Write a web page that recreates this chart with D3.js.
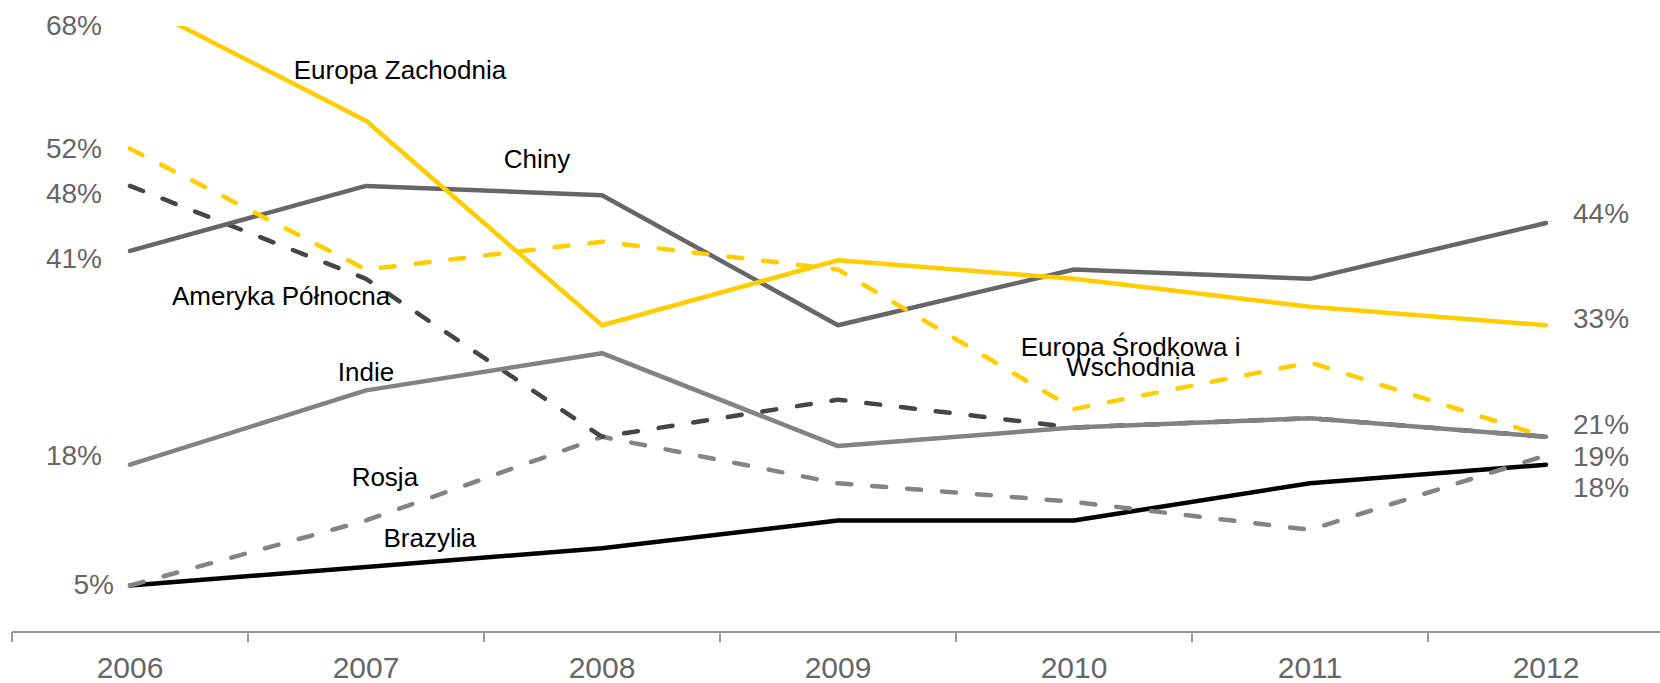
<!DOCTYPE html>
<html>
<head>
<meta charset="utf-8">
<script src="https://cdn.jsdelivr.net/npm/d3@7"></script>
<style>
  body { margin: 0; background: #fff; }
  text { font-family: "Liberation Sans", Arial, sans-serif; }
</style>
</head>
<body>
<div id="chart"></div>
<script>
// data (percent)
var years = [2006, 2007, 2008, 2009, 2010, 2011, 2012];
var europaZachodnia = [68, 55, 33, 40, 38, 35, 33];
var chiny = [41, 48, 47, 33, 39, 38, 44];
var europaSrodkowa = [52, 39, 42, 39, 24, 29, 21];
var amerykaPolnocna = [48, 38, 21, 25, 22, 23, 21];
var indie = [18, 26, 30, 20, 22, 23, 21];
var rosja = [5, 12, 21, 16, 14, 11, 19];
var brazylia = [5, 7, 9, 12, 12, 16, 18];

// series in drawing order (last on top)
var series = [
  {name: "Brazylia", values: brazylia, color: "#000000", dash: null},
  {name: "Rosja", values: rosja, color: "#838383", dash: "14,21"},
  {name: "Ameryka Północna", values: amerykaPolnocna, color: "#454545", dash: "14,21"},
  {name: "Indie", values: indie, color: "#828282", dash: null},
  {name: "Chiny", values: chiny, color: "#666666", dash: null},
  {name: "Europa Zachodnia", values: europaZachodnia, color: "#FFCC00", dash: null},
  {name: "Europa Środkowa i Wschodnia", values: europaSrodkowa, color: "#FFCC00", dash: "14,21"}
];

// value labels: which series gets a label on each side + baseline nudge (px)
var leftLabels = {
  "Europa Zachodnia": {dy: 35}, "Europa Środkowa i Wschodnia": {dy: 9},
  "Ameryka Północna": {dy: 17}, "Chiny": {dy: 17}, "Indie": {dy: 0},
  "Brazylia": {dy: 8, dx: 12}
};
var rightLabels = {
  "Chiny": {dy: 0}, "Europa Zachodnia": {dy: 3}, "Indie": {dy: -3},
  "Rosja": {dy: 11}, "Brazylia": {dy: 32}
};

// series name annotations: position in (fractional year, value) space
var nameLabels = [
  {lines: ["Europa Zachodnia"], year: 2007.144, value: 59.5},
  {lines: ["Chiny"], year: 2007.725, value: 49.9},
  {lines: ["Ameryka Północna"], year: 2006.64, value: 35.2},
  {lines: ["Indie"], year: 2007.0, value: 27.0},
  {lines: ["Rosja"], year: 2007.08, value: 15.7},
  {lines: ["Brazylia"], year: 2007.27, value: 9.1},
  {lines: ["Europa Środkowa i", "Wschodnia"], year: 2010.24, value: 29.7}
];

var W = 1660, H = 683;
var axisY = 632; //baseline of the plot (0%)
var plotTop = 26; //lines are clipped here

var svg = d3.select("#chart").append("svg")
  .attr("width", W)
  .attr("height", H);

var x = d3.scaleBand()
  .domain(years)
  .range([12, 1664])
  .padding(0); //categories with ticks between them

var xc = function(yr){ return x(yr) + x.bandwidth() / 2; };

var xf = d3.scaleLinear()
  .domain([years[0], years[years.length - 1]])
  .range([xc(years[0]), xc(years[years.length - 1])]); //fractional years for annotations

var y = d3.scaleLinear()
  .domain([0, 68])
  .range([axisY, 0]);

svg.append("defs").append("clipPath")
  .attr("id", "plotClip")
  .append("rect")
  .attr("x", 0)
  .attr("y", plotTop)
  .attr("width", W)
  .attr("height", axisY - plotTop + 10);

// x axis
var xAxis = d3.axisBottom(x).tickSize(0).tickPadding(0);
var axisG = svg.append("g")
  .attr("transform", "translate(0," + axisY + ")")
  .call(xAxis);
axisG.select(".domain").remove();
axisG.append("line")
  .attr("x1", 12).attr("x2", W)
  .attr("y1", 0).attr("y2", 0)
  .style("stroke", "#9a9a9a")
  .style("stroke-width", 2);
axisG.selectAll(".sep")
  .data(years.concat([null]))
  .enter()
  .append("line")
  .attr("class", "sep")
  .attr("x1", function(d, i){ return 12 + i * x.bandwidth(); })
  .attr("x2", function(d, i){ return 12 + i * x.bandwidth(); })
  .attr("y1", 0).attr("y2", 10)
  .style("stroke", "#9a9a9a")
  .style("stroke-width", 2);
axisG.selectAll(".tick text")
  .attr("y", 46)
  .attr("dy", 0)
  .style("font-size", "30px")
  .style("font-family", "'Liberation Sans', Arial, sans-serif")
  .style("fill", "#666666");

// lines
var line = d3.line()
  .x(function(d, i){ return xc(years[i]); })
  .y(function(d){ return y(d); });

var linesG = svg.append("g").attr("clip-path", "url(#plotClip)");
linesG.selectAll(".series")
  .data(series)
  .enter()
  .append("path")
  .attr("class", "series")
  .attr("d", function(d){ return line(d.values); })
  .style("fill", "none")
  .style("stroke", function(d){ return d.color; })
  .style("stroke-width", 4.5)
  .style("stroke-linejoin", "round")
  .style("stroke-linecap", "round")
  .style("stroke-dasharray", function(d){ return d.dash; });

// value labels, left side (2006)
svg.selectAll(".leftLabel")
  .data(series.filter(function(d){ return leftLabels[d.name]; }))
  .enter()
  .append("text")
  .attr("class", "leftLabel")
  .attr("text-anchor", "end")
  .attr("x", function(d){ return xc(years[0]) - 28 + (leftLabels[d.name].dx || 0); })
  .attr("y", function(d){ return y(d.values[0]) + leftLabels[d.name].dy; })
  .style("font-size", "28px")
  .style("fill", "#666666")
  .text(function(d){ return d.values[0] + "%"; });

// value labels, right side (2012)
var last = years.length - 1;
svg.selectAll(".rightLabel")
  .data(series.filter(function(d){ return rightLabels[d.name]; }))
  .enter()
  .append("text")
  .attr("class", "rightLabel")
  .attr("text-anchor", "start")
  .attr("x", xc(years[last]) + 27)
  .attr("y", function(d){ return y(d.values[last]) + rightLabels[d.name].dy; })
  .style("font-size", "28px")
  .style("fill", "#666666")
  .text(function(d){ return d.values[last] + "%"; });

// series names
var names = svg.selectAll(".name")
  .data(nameLabels)
  .enter()
  .append("text")
  .attr("class", "name")
  .attr("text-anchor", "middle")
  .attr("x", function(d){ return xf(d.year); })
  .attr("y", function(d){ return y(d.value); })
  .style("font-size", "26px")
  .style("fill", "#000");
names.selectAll("tspan")
  .data(function(d){ return d.lines; })
  .enter()
  .append("tspan")
  .attr("x", function(){ return xf(d3.select(this.parentNode).datum().year); })
  .attr("dy", function(d, i){ return i === 0 ? 0 : 20; })
  .text(function(d){ return d; });
</script>
</body>
</html>
